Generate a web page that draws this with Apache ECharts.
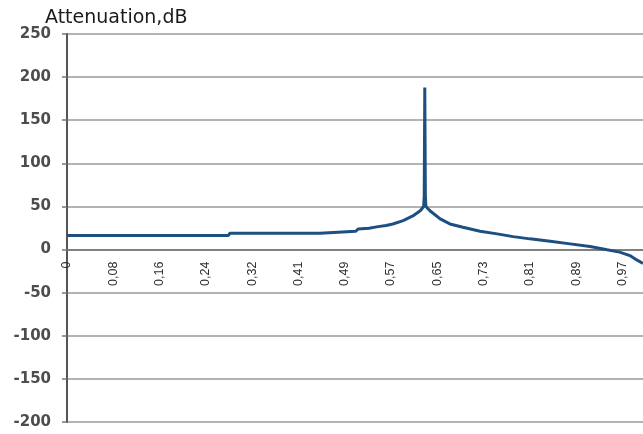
<!DOCTYPE html>
<html>
<head>
<meta charset="utf-8">
<script src="https://cdn.jsdelivr.net/npm/echarts@6/dist/echarts.min.js"></script>
<style>
  html, body { margin: 0; padding: 0; background: #fff; }
  #chart { width: 643px; height: 434px; }
</style>
</head>
<body>
<div id="chart"></div>
<script>
// relative frequency (x) and attenuation in dB
const freq = [0, 0.283, 0.286, 0.444, 0.4475, 0.507, 0.511, 0.53, 0.546, 0.56, 0.572, 0.59, 0.607,
    0.62, 0.626, 0.627, 0.628, 0.629, 0.630, 0.637, 0.655, 0.672, 0.695, 0.725, 0.755, 0.783,
    0.8125, 0.848, 0.883, 0.918, 0.948, 0.970, 0.988, 1.0, 1.011];
const attenuation = [16.2, 16.2, 18.9, 18.9, 21.2, 21.2, 23.9, 24.8, 26.6, 28, 29.7, 33.5, 39,
    45, 50, 62, 188, 62, 50, 45, 35.5, 29.7, 25.8, 21.2, 18.2, 15,
    12.4, 9.6, 6.6, 3.5, -0.3, -3, -7, -12, -16];

const xTickLabels = ['0', '0,08', '0,16', '0,24', '0,32', '0,41', '0,49', '0,57', '0,65', '0,73', '0,81', '0,89', '0,97'];
const xStep = 0.08125;

const Y_MIN = -200, Y_MAX = 250;
const GRID_TOP = 34, GRID_BOTTOM = 12, H = 434;
// move the x axis (line + labels) up to the zero line
const plotH = H - GRID_TOP - GRID_BOTTOM;
const zeroOffset = -plotH * (0 - Y_MIN) / (Y_MAX - Y_MIN);

const chart = echarts.init(document.getElementById('chart'), null, { renderer: 'canvas' });

const option = {
    animation: false,
    title: {
        text: 'Attenuation,dB',
        left: 40,
        top: 4,
        textStyle: {
            fontFamily: 'DejaVu Sans',
            fontSize: 19,
            fontWeight: 'normal',
            color: '#1a1a1a',
        },
    },
    grid: {
        left: 67,
        right: 0,
        top: GRID_TOP,
        bottom: GRID_BOTTOM,
        outerBoundsMode: 'none',
    },
    xAxis: {
        type: 'value',
        min: 0,
        max: 1.011,
        interval: xStep,
        position: 'bottom',
        offset: zeroOffset,
        splitLine: { show: false },
        axisTick: { show: false },
        axisLine: {
            onZero: false,
            lineStyle: { color: '#707070', width: 1.5 },
        },
        axisLabel: {
            rotate: 90,
            margin: 12,
            showMaxLabel: false,
            fontFamily: 'Liberation Sans',
            fontSize: 12.5,
            color: '#2e2e2e',
            formatter: function (v) {
                const i = Math.round(v / xStep);
                return Math.abs(v - i * xStep) < 1e-6 && xTickLabels[i] !== undefined ? xTickLabels[i] : '';
            },
        },
    },
    yAxis: {
        type: 'value',
        min: Y_MIN,
        max: Y_MAX,
        interval: 50,
        axisLine: {
            show: true,
            lineStyle: { color: '#555', width: 2 },
        },
        axisTick: {
            show: true,
            length: 5,
            lineStyle: { color: '#777', width: 1.5 },
        },
        splitLine: {
            lineStyle: { color: '#9a9a9a', width: 1.5 },
        },
        axisLabel: {
            margin: 16,
            fontFamily: 'DejaVu Sans',
            fontWeight: 'bold',
            fontSize: 15,
            color: '#4d4d4d',
        },
    },
    series: [
        {
            type: 'line',
            data: freq.map((x, i) => [x, attenuation[i]]),
            showSymbol: false,
            lineStyle: { color: '#1d4f80', width: 3 },
        },
    ],
};

chart.setOption(option);
</script>
</body>
</html>
